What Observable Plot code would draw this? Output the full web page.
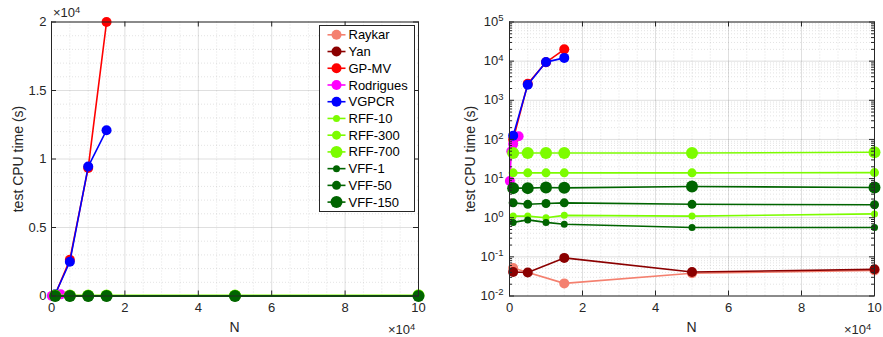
<!DOCTYPE html>
<html><head><meta charset="utf-8">
<script src="https://cdn.jsdelivr.net/npm/d3@7"></script>
<script src="https://cdn.jsdelivr.net/npm/@observablehq/plot@0.6"></script>
<style>
body{margin:0;background:#fff;font-family:"Liberation Sans",Arial,Helvetica,sans-serif;}
#wrap{position:relative;width:883px;height:337px;overflow:hidden;background:#fff;}
.panel{position:absolute;top:0;}
.lbl{position:absolute;color:#262626;white-space:nowrap;line-height:1;font-family:"Liberation Sans",Arial,sans-serif;}
.lbl sup{font-size:0.72em;vertical-align:0.45em;line-height:0;}
</style></head><body><div id="wrap"></div>
<script>
// ---- data ----
const seriesNames = ["Raykar","Yan","GP-MV","Rodrigues","VGPCR","RFF-10","RFF-300","RFF-700","VFF-1","VFF-50","VFF-150"];
const N_raykar = [1000, 15000, 50000, 100000];
const t_raykar = [0.052, 0.021, 0.038, 0.045];
const N_yan = [1000, 5000, 15000, 50000, 100000];
const t_yan = [0.041, 0.040, 0.094, 0.041, 0.048];
const N_gpmv = [1000, 5000, 10000, 15000];
const t_gpmv = [100, 2650, 9350, 20000];
const N_rod = [100, 500, 1000, 2500];
const t_rod = [8.7, 50, 76, 120];
const N_vgpcr = [1000, 5000, 10000, 15000];
const t_vgpcr = [125, 2500, 9450, 12100];
const N_all = [1000, 5000, 10000, 15000, 50000, 100000];
const t_rff10 = [1.1, 1.1, 1.0, 1.15, 1.1, 1.25];
const t_rff300 = [14, 14, 14, 14, 14, 14.2];
const t_rff700 = [45, 45, 45, 45, 45, 47];
const t_vff1 = [0.76, 0.88, 0.76, 0.68, 0.56, 0.56];
const t_vff50 = [2.4, 2.2, 2.3, 2.4, 2.2, 2.15];
const t_vff150 = [5.7, 5.7, 5.9, 5.8, 6.3, 5.9];
const xTickLabels = ["0","2","4","6","8","10"];
const yLinTickLabels = ["0","0.5","1","1.5","2"];

const seriesData = {
  "Raykar":[N_raykar,t_raykar], "Yan":[N_yan,t_yan], "GP-MV":[N_gpmv,t_gpmv],
  "Rodrigues":[N_rod,t_rod], "VGPCR":[N_vgpcr,t_vgpcr],
  "RFF-10":[N_all,t_rff10], "RFF-300":[N_all,t_rff300], "RFF-700":[N_all,t_rff700],
  "VFF-1":[N_all,t_vff1], "VFF-50":[N_all,t_vff50], "VFF-150":[N_all,t_vff150]
};
// ---- styles ----
const LG = "#7CFC00", DG = "#006400";
const styles = {
  "Raykar":{c:"#F4806F",r:5}, "Yan":{c:"#8B0000",r:5}, "GP-MV":{c:"#FF0000",r:5},
  "Rodrigues":{c:"#FF00FF",r:5}, "VGPCR":{c:"#0000FF",r:5},
  "RFF-10":{c:LG,r:3.5}, "RFF-300":{c:LG,r:4.5}, "RFF-700":{c:LG,r:6},
  "VFF-1":{c:DG,r:3.5}, "VFF-50":{c:DG,r:4.5}, "VFF-150":{c:DG,r:6}
};

const H = 337;
const frames = {
  lin:{left:0, width:441, mL:51, mR:23, mT:21.5, mB:41.5},
  log:{left:441, width:442, mL:68, mR:9, mT:21.5, mB:41.5}
};
const AX = "#262626";
const wrap = document.getElementById("wrap");

function build(kind){
  const f = frames[kind], isLog = kind === "log";
  const fh = H - f.mT - f.mB, fw = f.width - f.mL - f.mR;
  const xMajor = d3.range(0, 100001, 20000);
  const xMinor = d3.range(0, 100001, 5000).filter(v => v % 20000 !== 0);
  let yMajor, yMinor, yFmt;
  if (isLog){
    yMajor = d3.range(-2, 6).map(k => Math.pow(10, k));
    yMinor = [];
    for (let k = -2; k < 5; k++) for (let m = 2; m <= 9; m++) yMinor.push(m * Math.pow(10, k));
    yFmt = d => "10^" + Math.round(Math.log10(d));
  } else {
    yMajor = d3.range(0, 20001, 5000);
    yMinor = d3.range(0, 20001, 1000).filter(v => v % 5000 !== 0);
    yFmt = (d, i) => yLinTickLabels[i];
  }
  const marks = [
    Plot.ruleX(xMinor, {stroke:AX, strokeOpacity:0.13, strokeDasharray:"1,2"}),
    Plot.ruleY(yMinor, {stroke:AX, strokeOpacity:0.13, strokeDasharray:"1,2"}),
    Plot.ruleX(xMajor, {stroke:AX, strokeOpacity:0.15}),
    Plot.ruleY(yMajor, {stroke:AX, strokeOpacity:0.15})
  ];
  for (const name of seriesNames){
    const [xs, ys] = seriesData[name];
    const s = styles[name];
    const idx = xs.map((_, i) => i);
    marks.push(Plot.line(idx, {x: i => xs[i], y: i => ys[i], stroke:s.c, strokeWidth:1.6}));
    marks.push(Plot.dot(idx, {x: i => xs[i], y: i => ys[i], r:s.r, fill:s.c, stroke:"none"}));
  }
  marks.push(
    Plot.frame({stroke:AX, strokeWidth:1}),
    Plot.tickX(xMajor, {x:d=>d, stroke:AX, insetTop: fh - 5}),
    Plot.tickX(xMajor, {x:d=>d, stroke:AX, insetBottom: fh - 5}),
    Plot.tickY(yMajor, {y:d=>d, stroke:AX, insetRight: fw - 5}),
    Plot.tickY(yMajor, {y:d=>d, stroke:AX, insetLeft: fw - 5})
  );
  if (isLog){
    marks.push(
      Plot.tickY(yMinor, {y:d=>d, stroke:AX, insetRight: fw - 3}),
      Plot.tickY(yMinor, {y:d=>d, stroke:AX, insetLeft: fw - 3})
    );
  }
  marks.push(
    Plot.axisX(xMajor, {anchor:"bottom", tickSize:0, tickPadding:7, tickFormat:(d,i)=>xTickLabels[i], label:null, fontSize:13}),
    Plot.axisY(yMajor, {anchor:"left", tickSize:0, tickPadding: isLog ? 6 : 5, tickFormat:yFmt, label:null, fontSize:13})
  );
  const svg = Plot.plot({
    width:f.width, height:H,
    marginLeft:f.mL, marginRight:f.mR, marginTop:f.mT, marginBottom:f.mB,
    x:{domain:[0,100000]},
    y: isLog ? {type:"log", domain:[0.01,100000]} : {domain:[0,20000]},
    style:{color:AX, fontFamily:'"Liberation Sans", Arial, sans-serif', fontSize:"13px", background:"transparent", overflow:"visible"},
    marks
  });
  svg.classList.add("panel");
  svg.style.left = f.left + "px";
  wrap.appendChild(svg);
  // superscripts on log tick labels
  svg.querySelectorAll("text").forEach(t => {
    const m = /^10\^(-?\d+)$/.exec(t.textContent);
    if (m){
      t.textContent = "10";
      const ts = document.createElementNS("http://www.w3.org/2000/svg","tspan");
      ts.setAttribute("dy","-0.5em");
      ts.setAttribute("font-size","9.5");
      ts.textContent = m[1];
      t.appendChild(ts);
    }
  });
  // labels
  const cx = f.left + f.mL + fw / 2;
  const cy = f.mT + fh / 2;
  const ylab = document.createElement("div");
  ylab.className = "lbl";
  ylab.textContent = "test CPU time (s)";
  ylab.style.cssText += `font-size:14px;left:${f.left + (isLog ? 29 : 18)}px;top:${cy}px;transform:translate(-50%,-50%) rotate(-90deg);`;
  wrap.appendChild(ylab);
  const xlab = document.createElement("div");
  xlab.className = "lbl";
  xlab.textContent = "N";
  xlab.style.cssText += `font-size:14px;left:${cx}px;top:327px;transform:translate(-50%,-50%);`;
  wrap.appendChild(xlab);
  const xm = document.createElement("div");
  xm.className = "lbl";
  xm.innerHTML = "×10<sup>4</sup>";
  xm.style.cssText += `font-size:13px;left:${f.left + f.width - f.mR - 30}px;top:323px;`;
  wrap.appendChild(xm);
  if (!isLog){
    const ym = document.createElement("div");
    ym.className = "lbl";
    ym.innerHTML = "×10<sup>4</sup>";
    ym.style.cssText += `font-size:13px;left:53px;top:6px;`;
    wrap.appendChild(ym);
  }
}
build("lin");
build("log");

// legend
const lg = d3.select(wrap).append("svg")
  .attr("width",883).attr("height",337)
  .style("position","absolute").style("left","0px").style("top","0px");
lg.append("rect").attr("x",319.5).attr("y",25.5).attr("width",95).attr("height",186)
  .attr("fill","#fff").attr("stroke",AX).attr("stroke-width",1);
seriesNames.forEach((name, i) => {
  const y = 34.8 + i * 16.73, s = styles[name];
  const g = lg.append("g");
  g.append("line").attr("x1",327.5).attr("x2",345.5).attr("y1",y).attr("y2",y)
    .attr("stroke",s.c).attr("stroke-width",1.6);
  g.append("circle").attr("cx",336.5).attr("cy",y).attr("r",s.r).attr("fill",s.c);
  g.append("text").attr("x",348.5).attr("y",y).attr("dy","0.35em")
    .attr("font-size",13).attr("fill","#000")
    .attr("font-family",'"Liberation Sans", Arial, sans-serif').text(name);
});
</script>
</body></html>
